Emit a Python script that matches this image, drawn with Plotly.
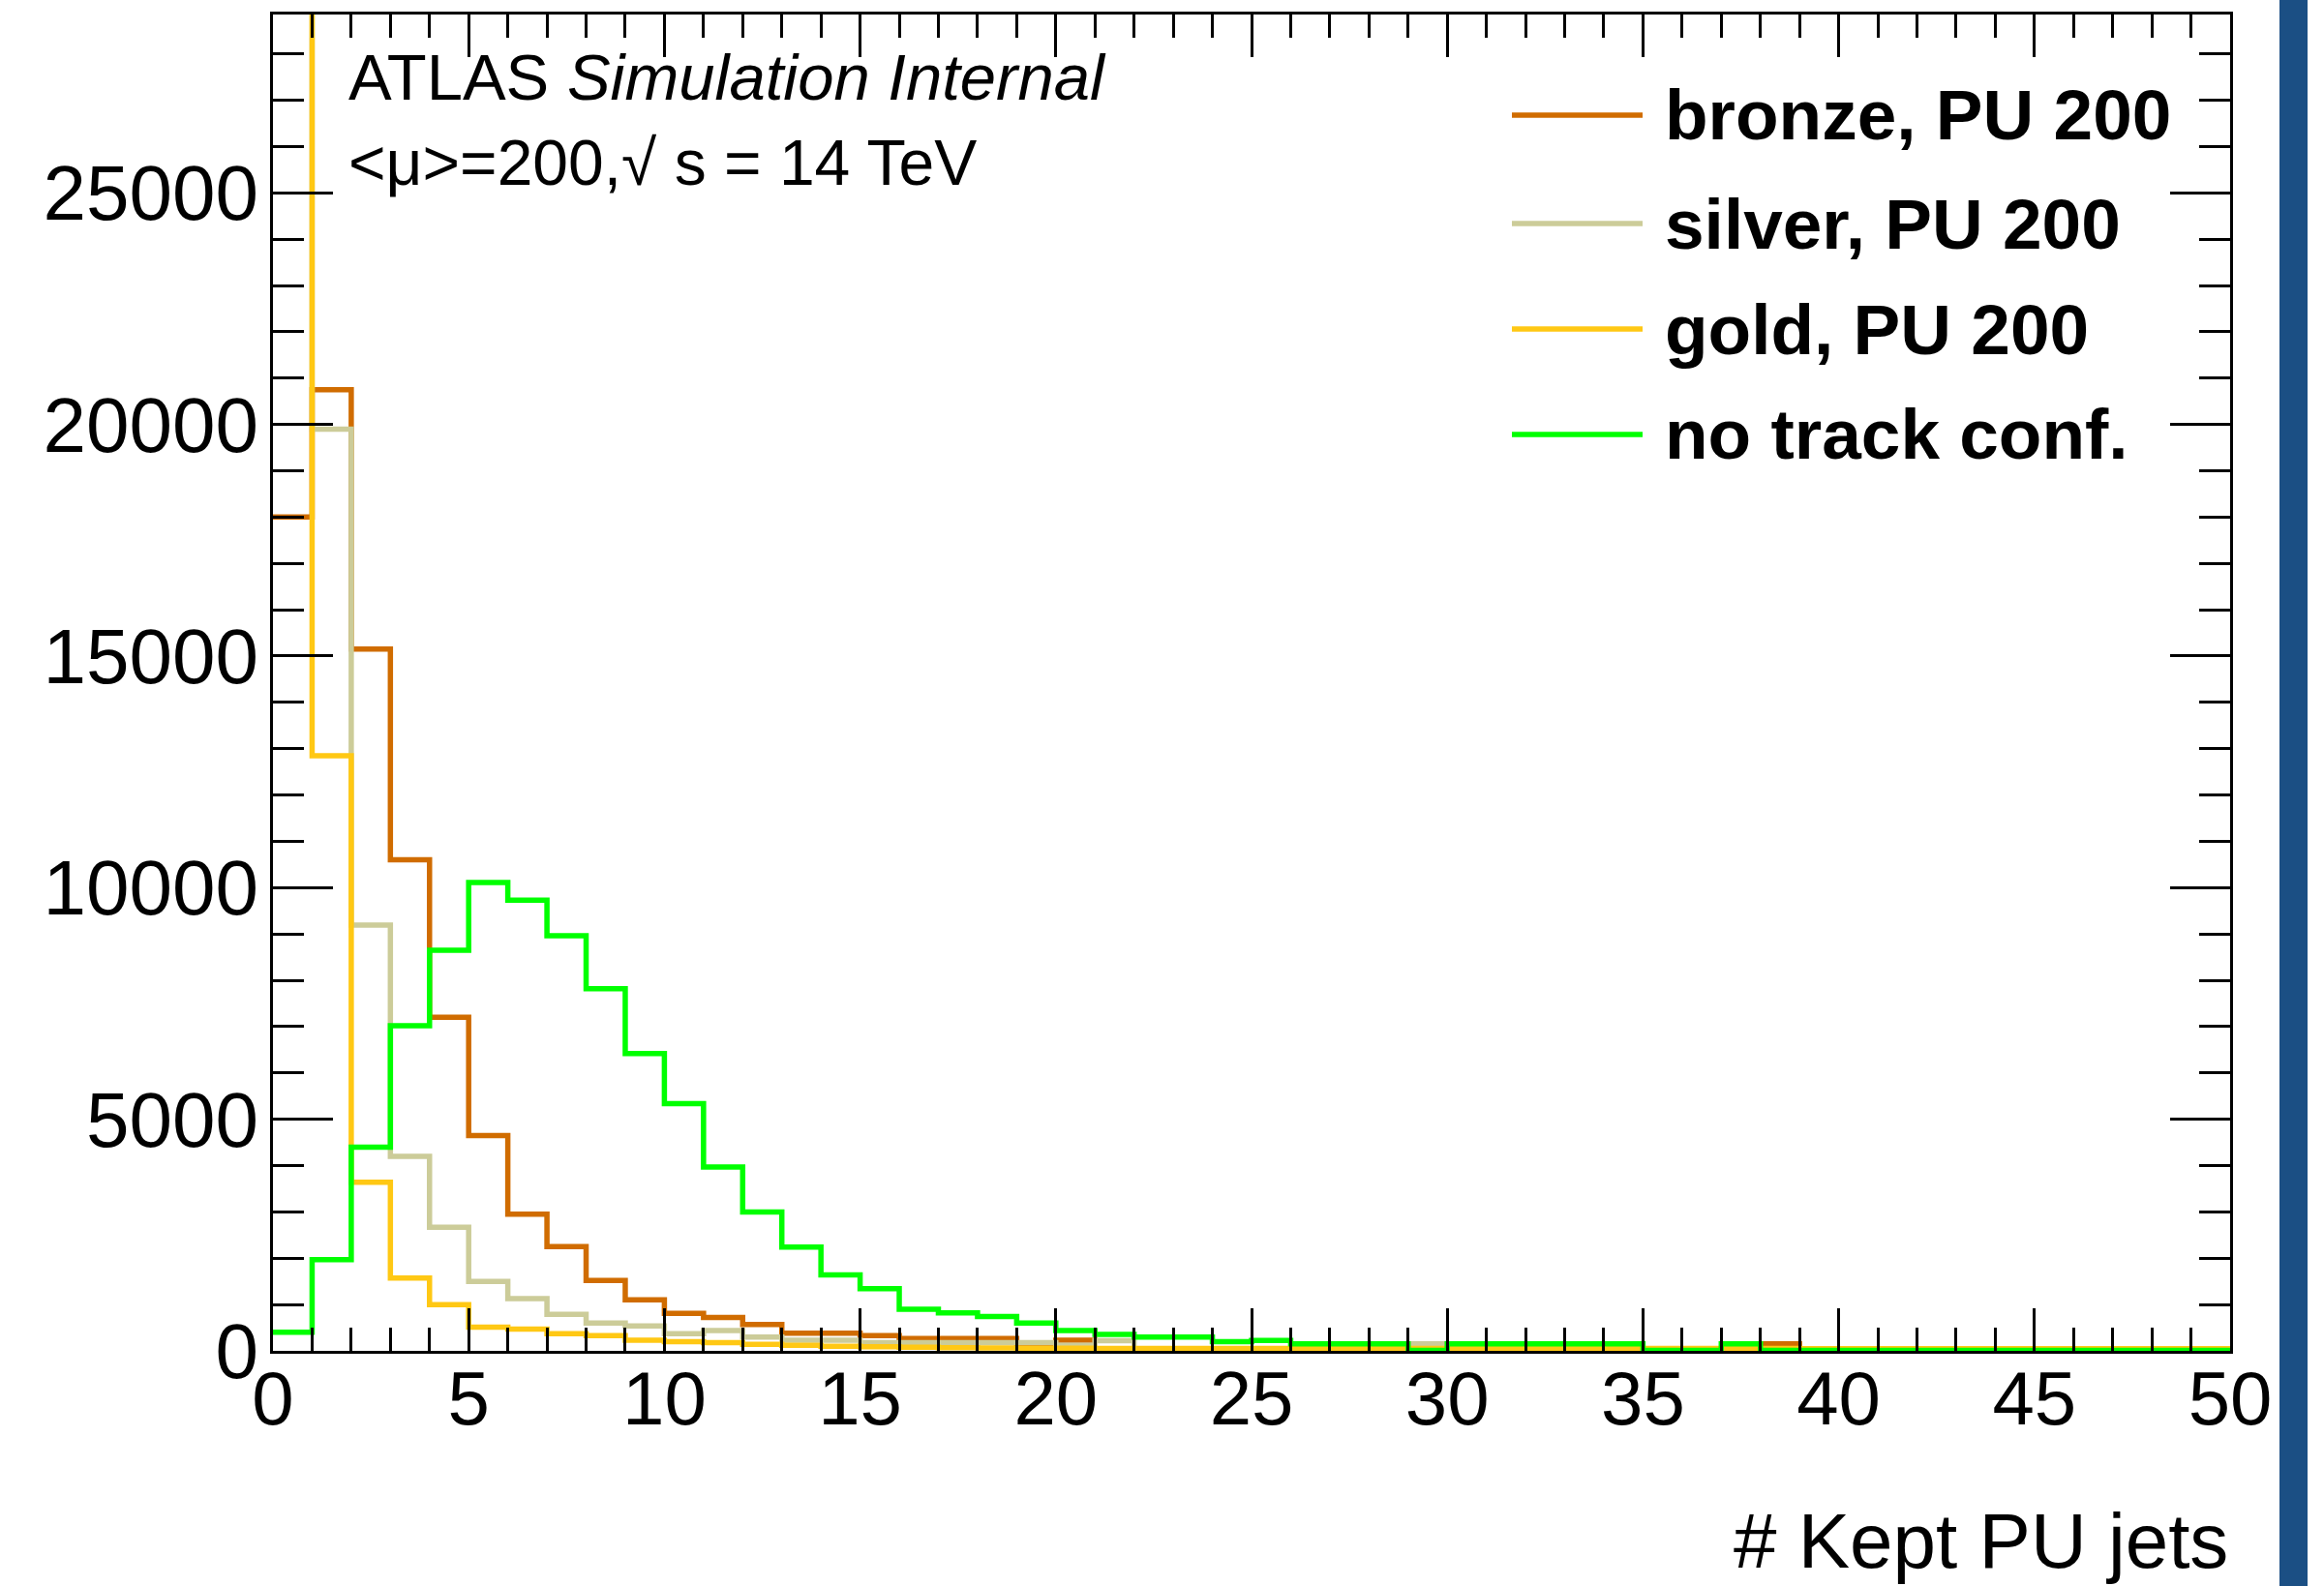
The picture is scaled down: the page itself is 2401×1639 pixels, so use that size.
import plotly.graph_objects as go

# Histogram binning: 50 unit-width bins from 0 to 50
bin_edges = list(range(0, 51))

# Entries per bin of "# Kept PU jets" for each track-confirmation scheme
bronze = [18000, 20750, 15150, 10600, 7200, 4650, 2950, 2250, 1520, 1100,
          810, 720, 570, 380, 380, 330, 265, 265, 265, 110,
          230, 40, 40, 40, 40, 40, 40, 40, 40, 40,
          40, 40, 40, 40, 40, 40, 40, 40, 150, 30,
          30, 30, 30, 30, 30, 30, 30, 30, 30, 30]

silver = [45000, 19900, 9190, 4200, 2670, 1500, 1130, 790, 600, 540,
          370, 440, 300, 230, 230, 180, 180, 180, 180, 180,
          120, 220, 45, 45, 45, 45, 45, 45, 45, 150,
          40, 40, 40, 40, 40, 40, 40, 40, 40, 30,
          30, 30, 30, 30, 30, 30, 30, 30, 30, 30]

gold = [65000, 12850, 3640, 1570, 1000, 510, 470, 370, 330, 230,
        200, 180, 140, 120, 100, 90, 80, 70, 65, 60,
        55, 50, 50, 50, 50, 50, 50, 50, 50, 50,
        50, 50, 50, 50, 50, 50, 50, 50, 50, 45,
        45, 45, 45, 45, 45, 45, 45, 45, 45, 45]

no_track_conf = [400, 1970, 4400, 7020, 8650, 10110, 9730, 8960, 7820, 6420,
                 5340, 3970, 3000, 2240, 1640, 1340, 900, 820, 740, 600,
                 440, 355, 300, 300, 200, 225, 150, 150, 150, 10,
                 150, 150, 150, 150, 150, 10, 10, 150, 10, 10,
                 10, 10, 10, 10, 10, 10, 10, 10, 10, 10]

series_values = [bronze, silver, gold, no_track_conf]
series_names = ["bronze, PU 200", "silver, PU 200", "gold, PU 200", "no track conf."]
series_colors = ["#d06c00", "#cccc99", "#ffc814", "#00ff00"]

x_title = "# Kept PU jets"
label_line1 = "ATLAS <i>Simulation Internal</i>"
label_line2 = "&lt;μ&gt;=200,√ s = 14 TeV"

y_max = 28850
FONT = "Liberation Sans, Arial, Helvetica, sans-serif"
LINE_W = 5.5

fig = go.Figure()

# Step-outline histograms (ROOT "hist" style)
for vals, name, color in zip(series_values, series_names, series_colors):
    fig.add_trace(go.Scatter(
        x=bin_edges,
        y=vals + [vals[-1]],
        mode="lines",
        name=name,
        line=dict(shape="hv", color=color, width=LINE_W),
        hoverinfo="skip",
    ))

# Plot-area geometry in pixels, used to place the text blocks
L, R, T, B = 282, 2304, 15, 1396
W, H = R - L, B - T


def px(xpix):
    return (xpix - L) / W


def py(ypix):
    return (B - ypix) / H


annotations = [
    dict(text=label_line1, x=px(358), y=py(79), xanchor="left", yanchor="middle",
         font=dict(size=67, family=FONT, color="black")),
    dict(text=label_line2, x=px(358), y=py(168), xanchor="left", yanchor="middle",
         font=dict(size=66, family=FONT, color="black")),
    dict(text=x_title, x=1.0, y=py(1592), xanchor="right", yanchor="middle",
         font=dict(size=80, family=FONT, color="black")),
]

shapes = []
legend_rows = [119, 231, 340, 449]
for name, color, yrow in zip(series_names, series_colors, legend_rows):
    shapes.append(dict(type="line", xref="paper", yref="paper",
                       x0=px(1562), x1=px(1697), y0=py(yrow), y1=py(yrow),
                       line=dict(color=color, width=LINE_W)))
    annotations.append(dict(text="<b>" + name + "</b>", x=px(1718), y=py(yrow),
                            xanchor="left", yanchor="middle",
                            font=dict(size=73, family=FONT, color="black")))

# Slide-frame bar at the right edge
shapes.append(dict(type="rect", xref="paper", yref="paper",
                   x0=px(2355), x1=px(2384), y0=py(1639), y1=py(0),
                   fillcolor="#1b4f84", line=dict(width=0), layer="below"))

for a in annotations:
    a.update(xref="paper", yref="paper", showarrow=False)

fig.update_layout(
    width=2401, height=1639,
    margin=dict(l=L, r=2401 - R, t=T, b=1639 - B),
    paper_bgcolor="white", plot_bgcolor="white",
    showlegend=False,
    font=dict(family=FONT, color="black"),
    annotations=annotations,
    shapes=shapes,
)

fig.update_xaxes(
    range=[0, 50], tick0=0, dtick=5,
    ticks="inside", ticklen=44, tickwidth=3, tickcolor="black",
    showline=True, linewidth=3, linecolor="black", mirror="ticks",
    showgrid=False, zeroline=False,
    tickfont=dict(size=78, family=FONT, color="black"),
    ticklabelstandoff=-21,
    minor=dict(dtick=1, ticks="inside", ticklen=24, tickwidth=3,
               tickcolor="black", showgrid=False),
)

fig.update_yaxes(
    range=[0, y_max], tick0=0, dtick=5000, tickformat="d",
    ticks="inside", ticklen=62, tickwidth=3, tickcolor="black",
    showline=True, linewidth=3, linecolor="black", mirror="ticks",
    showgrid=False, zeroline=False,
    tickfont=dict(size=80, family=FONT, color="black"),
    ticklabelstandoff=-4,
    minor=dict(dtick=1000, ticks="inside", ticklen=32, tickwidth=3,
               tickcolor="black", showgrid=False),
)

fig.write_html("out.html")
